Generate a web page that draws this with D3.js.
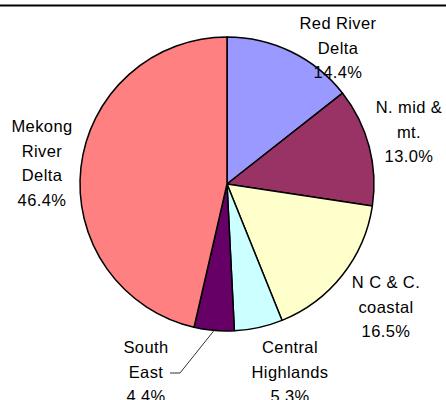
<!DOCTYPE html>
<html lang="en">
<head>
    <meta charset="UTF-8">
    <title>Regional share pie</title>
    <script src="https://d3js.org/d3.v7.min.js"></script>
    <style>
        body {
            margin: 0;
            background-color: #fff;
        }
        svg {
            display: block;
        }
        .label text {
            font-family: "Liberation Sans", Arial, sans-serif;
            font-size: 16.5px;
            letter-spacing: 0.4px;
            fill: #000;
        }
    </style>
</head>
<body>
    <svg width="446" height="400"></svg>

    <script>
        // Data, clockwise from 12 o'clock
        const regions = ["Red River Delta", "N. mid & mt.", "N C & C. coastal", "Central Highlands", "South East", "Mekong River Delta"];
        const labelLines = [["Red River", "Delta"], ["N. mid &", "mt."], ["N C & C.", "coastal"], ["Central", "Highlands"], ["South", "East"], ["Mekong", "River", "Delta"]];
        const shares = [14.4, 13.0, 16.5, 5.3, 4.4, 46.4];
        const colors = ["#9999ff", "#993366", "#ffffcc", "#ccffff", "#660066", "#ff8080"];

        // Label layout (centre x, first baseline y)
        const labelAt = [[338, 29], [409, 113], [386, 288], [290, 353], [146, 353], [42, 132]];
        const lineGap = 24.5;

        const svg = d3.select("svg");
        const cx = 227, cy = 184, r = 147;

        // top rule
        svg.append("line")
            .attr("x1", 0).attr("x2", 446)
            .attr("y1", 5.5).attr("y2", 5.5)
            .attr("stroke", "#000").attr("stroke-width", 2);

        const pie = d3.pie().sort(null).value(d => d);
        const arcs = pie(shares);
        const arc = d3.arc().innerRadius(0).outerRadius(r);
        const rim = d3.arc().innerRadius(r).outerRadius(r);

        const g = svg.append("g").attr("transform", `translate(${cx},${cy})`);

        g.selectAll("path.slice").data(arcs).enter()
            .append("path")
            .attr("class", "slice")
            .attr("d", arc)
            .attr("fill", (d, i) => colors[i])
            .attr("stroke", "#000")
            .attr("stroke-width", 1.5)
            .attr("stroke-linejoin", "round");

        // leader line for South East
        const se = regions.indexOf("South East");
        const p = rim.centroid(arcs[se]);
        const lx = labelAt[se][0] - cx, ly = labelAt[se][1] + lineGap - 4.5 - cy;
        g.append("polyline")
            .attr("points", [[lx + 24, ly], [lx + 34, ly], p].map(q => q.join(",")).join(" "))
            .attr("fill", "none")
            .attr("stroke", "#333")
            .attr("stroke-width", 1);

        const fmt = d3.format(".1f");
        const labels = svg.selectAll("g.label").data(arcs).enter()
            .append("g")
            .attr("class", "label");

        labels.each(function(d, i) {
            const lines = labelLines[i].concat([fmt(d.data) + "%"]);
            d3.select(this).selectAll("text").data(lines).enter()
                .append("text")
                .attr("x", labelAt[i][0])
                .attr("y", (t, k) => labelAt[i][1] + k * lineGap)
                .attr("text-anchor", "middle")
                .text(t => t);
        });
    </script>
</body>
</html>
